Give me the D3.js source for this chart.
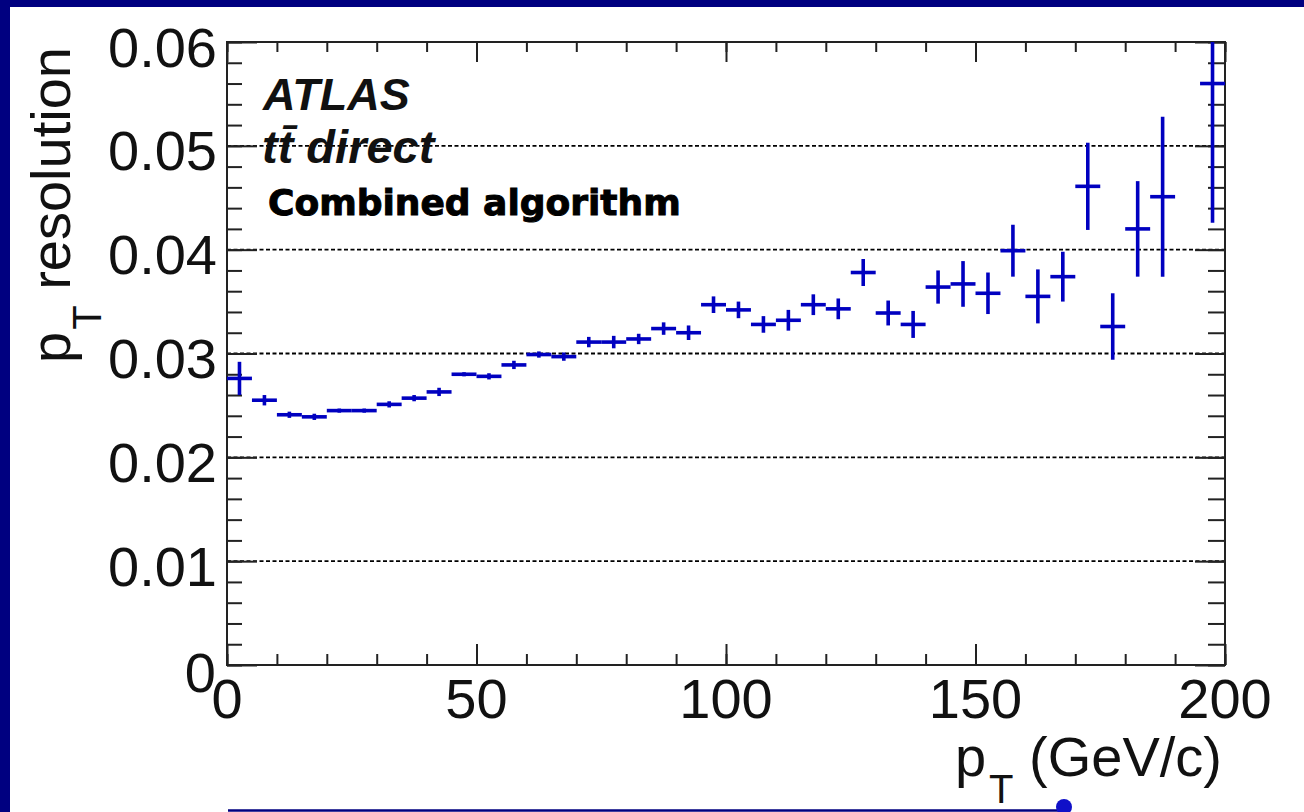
<!DOCTYPE html>
<html>
<head>
<meta charset="utf-8">
<script src="https://cdn.jsdelivr.net/npm/d3@7/dist/d3.min.js"></script>
<style>
  html, body { margin: 0; padding: 0; background: #000080; }
  svg { display: block; }
</style>
</head>
<body>
<svg id="chart" width="1304" height="812"></svg>
<script>
// ---- data ----
const binCenters = [2.5, 7.5, 12.5, 17.5, 22.5, 27.5, 32.5, 37.5, 42.5, 47.5,
  52.5, 57.5, 62.5, 67.5, 72.5, 77.5, 82.5, 87.5, 92.5, 97.5,
  102.5, 107.5, 112.5, 117.5, 122.5, 127.5, 132.5, 137.5, 142.5, 147.5,
  152.5, 157.5, 162.5, 167.5, 172.5, 177.5, 182.5, 187.5, 197.5];
const binHalfWidth = 2.5;
const resolution = [0.0276, 0.0255, 0.0241, 0.0239, 0.0245, 0.0245, 0.0251, 0.0257, 0.0263, 0.0280,
  0.0278, 0.0289, 0.0299, 0.0297, 0.0311, 0.0311, 0.0314, 0.0324, 0.0320, 0.0347,
  0.0342, 0.0328, 0.0332, 0.0347, 0.0343, 0.0378, 0.0339, 0.0328, 0.0364, 0.0367,
  0.0358, 0.0399, 0.0355, 0.0374, 0.0461, 0.0326, 0.0420, 0.0451, 0.0560];
const resolutionErr = [0.0016, 0.0005, 0.0003, 0.0003, 0.0002, 0.0002, 0.0003, 0.0003, 0.0004, 0.0002,
  0.0003, 0.0004, 0.0003, 0.0004, 0.0005, 0.0006, 0.0005, 0.0006, 0.0007, 0.0008,
  0.0008, 0.0008, 0.0010, 0.0010, 0.0010, 0.0013, 0.0012, 0.0013, 0.0016, 0.0022,
  0.0020, 0.0025, 0.0026, 0.0024, 0.0042, 0.0032, 0.0046, 0.0077, 0.0134];
const xDomain = [0, 200];
const yDomain = [0, 0.06];
const xMajorTicks = [0, 50, 100, 150, 200];
const xTickLabels = ["0", "50", "100", "150", "200"];
const yMajorTicks = [0, 0.01, 0.02, 0.03, 0.04, 0.05, 0.06];
const yTickLabels = ["0", "0.01", "0.02", "0.03", "0.04", "0.05", "0.06"];
const gridValues = [0.01, 0.02, 0.03, 0.04, 0.05];

// ---- layout ----
const svg = d3.select("#chart");
const X0 = 227, X1 = 1225, Y0 = 665, Y1 = 42;
const x = d3.scaleLinear().domain(xDomain).range([X0, X1]);
const y = d3.scaleLinear().domain(yDomain).range([Y0, Y1]);
const axisCol = "#222";
const markCol = "#0000c0";
const labelFont = "'Liberation Sans', Arial, Helvetica, sans-serif";

// white page with navy borders (top/left)
svg.append("rect").attr("x", 10).attr("y", 7).attr("width", 1294).attr("height", 805).attr("fill", "#ffffff");
// bottom slide line and small marker
svg.append("line").attr("x1", 228).attr("x2", 1058).attr("y1", 810.5).attr("y2", 810.5)
  .attr("stroke", "#000080").attr("stroke-width", 2.5);
svg.append("circle").attr("cx", 1064).attr("cy", 807).attr("r", 8).attr("fill", "#1010c8");

// gridlines
svg.append("g").selectAll("line").data(gridValues).join("line")
  .attr("x1", X0).attr("x2", X1)
  .attr("y1", d => y(d)).attr("y2", d => y(d))
  .attr("stroke", "#000").attr("stroke-width", 1.8).attr("stroke-dasharray", "4,2.5");

// ticks: y axis (left & right), via d3 axes
const yMinor = d3.range(0, 0.0601, 0.002);
function styleAxis(g) {
  g.select(".domain").remove();
  g.selectAll(".tick line").attr("stroke", axisCol).attr("stroke-width", 2);
  g.selectAll(".tick text").remove();
}
svg.append("g").attr("transform", `translate(${X0},0)`)
  .call(d3.axisRight(y).tickValues(yMinor).tickSize(15)).call(styleAxis);
svg.append("g").attr("transform", `translate(${X0},0)`)
  .call(d3.axisRight(y).tickValues(yMajorTicks).tickSize(30)).call(styleAxis);
svg.append("g").attr("transform", `translate(${X1},0)`)
  .call(d3.axisLeft(y).tickValues(yMinor).tickSize(17)).call(styleAxis);
svg.append("g").attr("transform", `translate(${X1},0)`)
  .call(d3.axisLeft(y).tickValues(yMajorTicks).tickSize(30)).call(styleAxis);

const xMinor = d3.range(0, 201, 10);
svg.append("g").attr("transform", `translate(0,${Y0})`)
  .call(d3.axisTop(x).tickValues(xMinor).tickSize(11)).call(styleAxis);
svg.append("g").attr("transform", `translate(0,${Y0})`)
  .call(d3.axisTop(x).tickValues(xMajorTicks).tickSize(21)).call(styleAxis);
svg.append("g").attr("transform", `translate(0,${Y1})`)
  .call(d3.axisBottom(x).tickValues(xMinor).tickSize(10)).call(styleAxis);
svg.append("g").attr("transform", `translate(0,${Y1})`)
  .call(d3.axisBottom(x).tickValues(xMajorTicks).tickSize(20)).call(styleAxis);

// frame
svg.append("rect").attr("x", X0).attr("y", Y1).attr("width", X1 - X0).attr("height", Y0 - Y1)
  .attr("fill", "none").attr("stroke", axisCol).attr("stroke-width", 2);

// tick labels
svg.append("g").selectAll("text").data(yMajorTicks).join("text")
  .attr("x", d => d === 0 ? 216 : 217).attr("y", d => y(d) + (d === 0 ? 7 : 5))
  .attr("dominant-baseline", "central").attr("text-anchor", "end")
  .attr("font-family", labelFont).attr("font-size", 56).attr("fill", "#111")
  .text((d, i) => yTickLabels[i]);
svg.append("g").selectAll("text").data(xMajorTicks).join("text")
  .attr("x", d => x(d)).attr("y", 718)
  .attr("text-anchor", "middle")
  .attr("font-family", labelFont).attr("font-size", 56).attr("fill", "#111")
  .text((d, i) => xTickLabels[i]);

// axis titles
const xt = svg.append("text").attr("x", 1222).attr("y", 776).attr("text-anchor", "end")
  .attr("font-family", labelFont).attr("font-size", 56).attr("fill", "#111");
xt.append("tspan").text("p");
xt.append("tspan").attr("font-size", 40).attr("dy", 27).attr("dx", 3).text("T");
xt.append("tspan").attr("dy", -27).text(" (GeV/c)");

const yt = svg.append("text").attr("transform", "translate(70,363) rotate(-90)")
  .attr("font-family", labelFont).attr("font-size", 56).attr("fill", "#111");
yt.append("tspan").text("p");
yt.append("tspan").attr("font-size", 40).attr("dy", 31).attr("dx", 2).text("T");
yt.append("tspan").attr("dy", -31).text(" resolution");

// data points with error bars
svg.append("defs").append("clipPath").attr("id", "plotclip")
  .append("rect").attr("x", X0).attr("y", Y1).attr("width", X1 - X0).attr("height", Y0 - Y1);
const pts = binCenters.map((c, i) => ({c, v: resolution[i], e: resolutionErr[i]}));
const gp = svg.append("g").attr("clip-path", "url(#plotclip)")
  .attr("stroke", markCol).attr("stroke-width", 3.6);
gp.selectAll("line.h").data(pts).join("line").attr("class", "h")
  .attr("x1", d => x(d.c - binHalfWidth)).attr("x2", d => x(d.c + binHalfWidth))
  .attr("y1", d => y(d.v)).attr("y2", d => y(d.v));
gp.selectAll("line.v").data(pts).join("line").attr("class", "v")
  .attr("x1", d => x(d.c)).attr("x2", d => x(d.c))
  .attr("y1", d => y(d.v - d.e)).attr("y2", d => y(d.v + d.e));

// labels
svg.append("text").attr("x", 263).attr("y", 110)
  .attr("font-family", labelFont).attr("font-size", 45).attr("font-weight", "bold").attr("font-style", "italic")
  .attr("fill", "#111").text("ATLAS");
svg.append("text").attr("x", 262).attr("y", 163)
  .attr("font-family", labelFont).attr("font-size", 47).attr("font-weight", "bold").attr("font-style", "italic")
  .attr("fill", "#111").text("tt\u0304 direct");
svg.append("text").attr("x", 268).attr("y", 215)
  .attr("font-family", "'DejaVu Sans', sans-serif").attr("font-size", 36).attr("font-weight", "bold")
  .attr("fill", "#000").attr("stroke", "#000").attr("stroke-width", 1)
  .text("Combined algorithm");
</script>
</body>
</html>
